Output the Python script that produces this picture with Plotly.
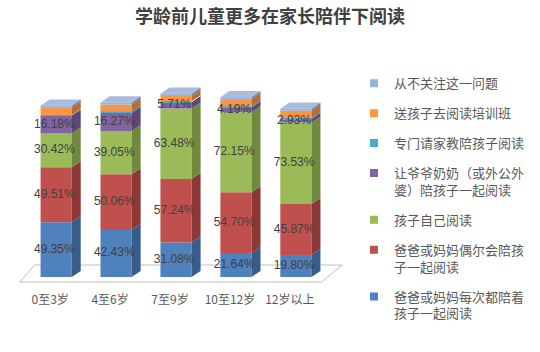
import plotly.graph_objects as go

categories = ["0至3岁", "4至6岁", "7至9岁", "10至12岁", "12岁以上"]

every_time = [49.35, 42.43, 31.08, 21.64, 19.80]
sometimes = [49.51, 50.06, 57.24, 54.70, 45.87]
self_read = [30.42, 39.05, 63.48, 72.15, 73.53]
grandparents = [16.18, 16.27, 5.71, 4.19, 2.93]
tutor = [0.4, 1.2, 0.8, 1.0, 1.2]
training = [6.5, 6.3, 4.8, 6.5, 6.5]
never = [2.0, 2.0, 2.0, 1.8, 1.8]

series = [
    ("爸爸或妈妈每次都陪着<br>孩子一起阅读", every_time, "#4F81BD", "#385D8A", True),
    ("爸爸或妈妈偶尔会陪孩<br>子一起阅读", sometimes, "#C0504D", "#8C3836", True),
    ("孩子自己阅读", self_read, "#9BBB59", "#71893F", True),
    ("让爷爷奶奶（或外公外<br>婆）陪孩子一起阅读", grandparents, "#8064A2", "#5C4776", True),
    ("专门请家教陪孩子阅读", tutor, "#4BACC6", "#357D91", False),
    ("送孩子去阅读培训班", training, "#F79646", "#B66D31", False),
    ("从不关注这一问题", never, "#95B3D7", "#6A83A3", False),
]

xs = list(range(len(categories)))
W = 0.52      # bar front width (x units)
DX = 0.15     # depth offset in x units
DY = 5.5      # depth offset in y units
FONT = "Noto Sans CJK SC, Noto Sans, sans-serif"

fig = go.Figure()

cum = [0.0] * len(xs)
bases = []
for name, vals, col, dark, lab in series:
    bases.append(list(cum))
    fig.add_trace(go.Bar(x=xs, y=vals, base=cum, width=W, marker=dict(color=col, line=dict(width=0)),
                         showlegend=False, hoverinfo="skip"))
    cum = [c + v for c, v in zip(cum, vals)]

# side faces
for (name, vals, col, dark, lab), base in zip(series, bases):
    px, py = [], []
    for i, b, v in zip(xs, base, vals):
        x0 = i + W / 2
        px += [x0, x0 + DX, x0 + DX, x0, x0, None]
        py += [b, b + DY, b + v + DY, b + v, b, None]
    fig.add_trace(go.Scatter(x=px, y=py, mode="lines", fill="toself", fillcolor=dark,
                             line=dict(width=0, color=dark), showlegend=False, hoverinfo="skip"))

# top faces
tx, ty = [], []
for i, t in zip(xs, cum):
    tx += [i - W / 2, i + W / 2, i + W / 2 + DX, i - W / 2 + DX, i - W / 2, None]
    ty += [t, t, t + DY, t + DY, t, None]
fig.add_trace(go.Scatter(x=tx, y=ty, mode="lines", fill="toself", fillcolor="#A9BCDD",
                         line=dict(width=0, color="#A9BCDD"), showlegend=False, hoverinfo="skip"))

# data labels
for (name, vals, col, dark, lab), base in zip(series, bases):
    if not lab:
        continue
    fig.add_trace(go.Scatter(x=[i - 0.03 for i in xs], y=[b + v / 2 for b, v in zip(base, vals)],
                             mode="text", text=[f"{v:.2f}%" for v in vals],
                             textfont=dict(size=12, color="#404040", family="Liberation Sans, Arial, sans-serif"),
                             showlegend=False, hoverinfo="skip"))

# legend entries (top-down order)
for k, (name, vals, col, dark, lab) in enumerate(reversed(series)):
    fig.add_trace(go.Scatter(x=[None], y=[None], mode="markers", name=name, legendgroup=f"g{k}",
                             marker=dict(symbol="square", size=8, color=col)))

n = len(xs)
floor_path = (f"M {-0.61},{-4.5} L {n - 1 + 0.43},{-4.5} L {n - 1 + 0.77},{10.8} "
              f"L {-0.36},{10.8} Z")
fig.add_shape(type="path", path=floor_path, xref="x", yref="y", layer="below",
              line=dict(color="#BFBFBF", width=1), fillcolor="white")

fig.update_layout(
    width=540, height=352,
    margin=dict(l=10, r=180, t=40, b=66),
    paper_bgcolor="white", plot_bgcolor="white",
    barmode="overlay",
    title=dict(text="学龄前儿童更多在家长陪伴下阅读", x=0.5, xanchor="center", y=0.952, yanchor="middle",
               font=dict(family=FONT, size=18, color="#404040", weight="bold")),
    xaxis=dict(range=[-0.77, 4.97], tickvals=xs, ticktext=categories, showgrid=False, zeroline=False,
               showline=False, ticks="", ticklabelshift=-6, ticklabelstandoff=5,
               tickfont=dict(family=FONT, size=12, color="#595959")),
    yaxis=dict(range=[-8.1, 213.5], visible=False, showgrid=False, zeroline=False),
    legend=dict(x=1.0, xanchor="left", y=0.885, yanchor="top", traceorder="grouped", tracegroupgap=10,
                valign="top", bgcolor="rgba(0,0,0,0)", maxheight=320,
                font=dict(family=FONT, size=13, color="#595959")),
    showlegend=True,
)

fig.write_html("out.html")
